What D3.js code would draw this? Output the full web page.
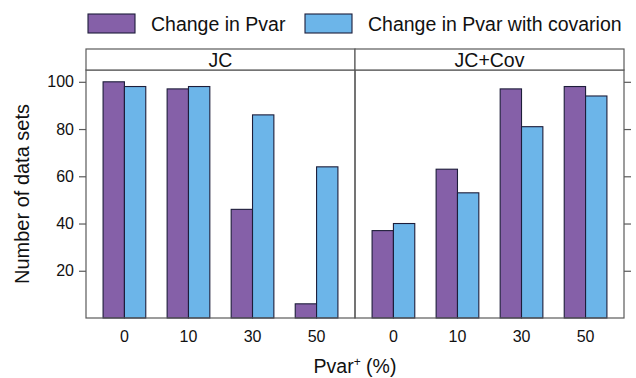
<!DOCTYPE html>
<html>
<head>
<meta charset="utf-8">
<script src="https://cdn.jsdelivr.net/npm/d3@7/dist/d3.min.js"></script>
<style>
  html, body { margin: 0; padding: 0; background: #fff; }
  svg { display: block; font-family: "Liberation Sans", Arial, Helvetica, sans-serif; }
</style>
</head>
<body>
<svg id="chart" width="636" height="378"></svg>
<script>
// Panels (substitution models) and Pvar+ levels
const panels = ["JC", "JC+Cov"];
const levels = ["0", "10", "30", "50"];
const seriesNames = ["Change in Pvar", "Change in Pvar with covarion"];
const seriesColors = ["#8560a8", "#6cb5e9"];

// Number of data sets per level, one array per panel and series
const jcPvar = [100, 97, 46, 6];
const jcCovarion = [98, 98, 86, 64];
const jcCovPvar = [37, 63, 97, 98];
const jcCovCovarion = [40, 53, 81, 94];

const yTicks = [20, 40, 60, 80, 100];

const panelData = [
  [jcPvar, jcCovarion],
  [jcCovPvar, jcCovCovarion]
];

const svg = d3.select("#chart");

const plotL = 86, plotR = 624, plotT = 70, plotB = 318, stripT = 49;
const panelW = (plotR - plotL) / panels.length;

const y = d3.scaleLinear().domain([0, 105]).range([plotB, plotT]);

const x = d3.scaleBand().domain(levels).range([0, panelW])
  .paddingInner(1 / 3).paddingOuter(0.8 / 3);
const xs = d3.scaleBand().domain(d3.range(seriesNames.length)).range([0, x.bandwidth()]);

const frame = "#5a5a5a";
const barEdge = "#1d1d3a";

panels.forEach((name, p) => {
  const g = svg.append("g").attr("transform", `translate(${plotL + p * panelW},0)`);

  // bars
  panelData[p].forEach((vals, s) => {
    g.selectAll(null).data(vals).enter().append("rect")
      .attr("x", (d, i) => x(levels[i]) + xs(s))
      .attr("y", d => y(d))
      .attr("width", xs.bandwidth())
      .attr("height", d => y(0) - y(d))
      .attr("fill", seriesColors[s])
      .attr("stroke", barEdge)
      .attr("stroke-width", 1.1);
  });

  // panel frame
  g.append("rect").attr("x", 0).attr("y", plotT).attr("width", panelW).attr("height", plotB - plotT)
    .attr("fill", "none").attr("stroke", frame).attr("stroke-width", 1.2);

  // strip
  g.append("rect").attr("x", 0).attr("y", stripT).attr("width", panelW).attr("height", plotT - stripT)
    .attr("fill", "#fff").attr("stroke", frame).attr("stroke-width", 1.2);
  g.append("text").attr("x", panelW / 2).attr("y", 66.5)
    .attr("text-anchor", "middle").attr("font-size", 19.5).attr("fill", "#111").text(name);

  // category labels
  g.selectAll(null).data(levels).enter().append("text")
    .attr("x", d => x(d) + x.bandwidth() / 2)
    .attr("y", 342)
    .attr("text-anchor", "middle").attr("font-size", 16).attr("fill", "#111")
    .text(d => d);
});

// y axis on the left panel, ticks only on the right panel
const yAxisL = d3.axisLeft(y).tickValues(yTicks).tickSize(7).tickPadding(5);
const gl = svg.append("g").attr("transform", `translate(${plotL},0)`).call(yAxisL);
gl.select(".domain").remove();
gl.selectAll(".tick line").attr("stroke", frame).attr("stroke-width", 1.2);
gl.selectAll(".tick text").attr("font-size", 16).attr("fill", "#111")
  .attr("font-family", "'Liberation Sans', Arial, Helvetica, sans-serif");

const yAxisR = d3.axisRight(y).tickValues(yTicks).tickSize(7).tickFormat("");
const gr = svg.append("g").attr("transform", `translate(${plotR},0)`).call(yAxisR);
gr.select(".domain").remove();
gr.selectAll(".tick line").attr("stroke", frame).attr("stroke-width", 1.2);

// axis titles
svg.append("text")
  .attr("transform", `translate(29,${(plotT + plotB) / 2}) rotate(-90)`)
  .attr("text-anchor", "middle").attr("font-size", 20).attr("fill", "#111")
  .text("Number of data sets");

const xt = svg.append("text").attr("x", (plotL + plotR) / 2).attr("y", 373)
  .attr("text-anchor", "middle").attr("font-size", 19.5).attr("fill", "#111");
xt.append("tspan").text("Pvar");
xt.append("tspan").attr("font-size", 12).attr("dy", -7).text("+");
xt.append("tspan").attr("dy", 7).text(" (%)");

// legend
const legendX = [88, 305];
seriesNames.forEach((n, s) => {
  svg.append("rect").attr("x", legendX[s]).attr("y", 14).attr("width", 47).attr("height", 19)
    .attr("fill", seriesColors[s]).attr("stroke", barEdge).attr("stroke-width", 1.1);
  svg.append("text").attr("x", legendX[s] + 63).attr("y", 31)
    .attr("font-size", 19.5).attr("fill", "#111").text(n);
});
</script>
</body>
</html>
